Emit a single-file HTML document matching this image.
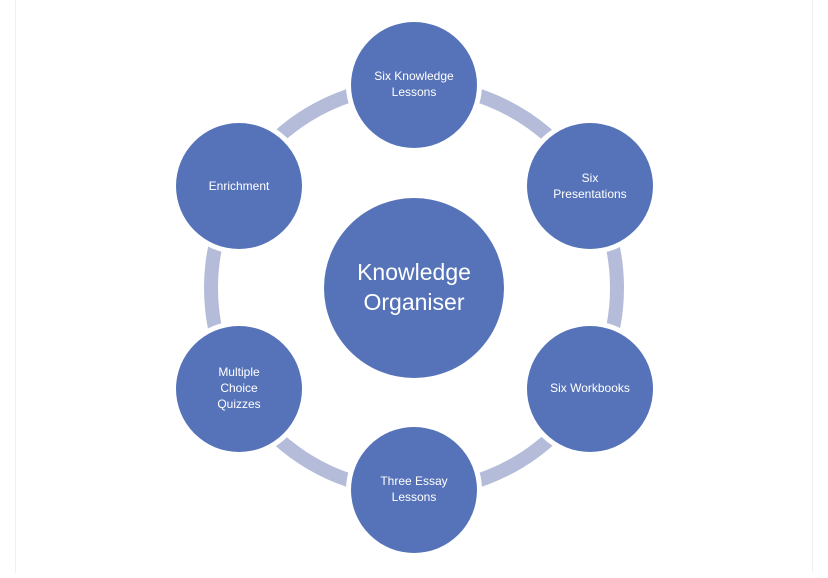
<!DOCTYPE html>
<html><head><style>
html,body{margin:0;padding:0;background:#fff;}
body{width:828px;height:573px;overflow:hidden;font-family:"Liberation Sans",sans-serif;}
</style></head><body>
<svg width="828" height="573" viewBox="0 0 828 573" xmlns="http://www.w3.org/2000/svg">
<line x1="15.5" y1="0" x2="15.5" y2="573" stroke="#f0f0f0"/>
<line x1="812.5" y1="0" x2="812.5" y2="573" stroke="#f0f0f0"/>
<circle cx="414" cy="288" r="203" fill="none" stroke="#b4bcda" stroke-width="14"/>
<g fill="#fff">
<circle cx="414" cy="85" r="68"/>
<circle cx="590" cy="186" r="68"/>
<circle cx="590" cy="389" r="68"/>
<circle cx="414" cy="490" r="68"/>
<circle cx="239" cy="389" r="68"/>
<circle cx="239" cy="186" r="68"/>
</g>
<g fill="#5673b9">
<circle cx="414" cy="288" r="90"/>
<circle cx="414" cy="85" r="63"/>
<circle cx="590" cy="186" r="63"/>
<circle cx="590" cy="389" r="63"/>
<circle cx="414" cy="490" r="63"/>
<circle cx="239" cy="389" r="63"/>
<circle cx="239" cy="186" r="63"/>
</g>
<g fill="#fff" font-size="12" text-anchor="middle">
<text x="414" y="80">Six Knowledge</text><text x="414" y="96">Lessons</text>
<text x="590" y="182">Six</text><text x="590" y="198">Presentations</text>
<text x="590" y="392">Six Workbooks</text>
<text x="414" y="485">Three Essay</text><text x="414" y="501">Lessons</text>
<text x="239" y="376">Multiple</text><text x="239" y="392">Choice</text><text x="239" y="408">Quizzes</text>
<text x="239" y="190">Enrichment</text>
<text x="414" y="280" font-size="23">Knowledge</text>
<text x="414" y="310" font-size="23">Organiser</text>
</g>
</svg>
</body></html>
